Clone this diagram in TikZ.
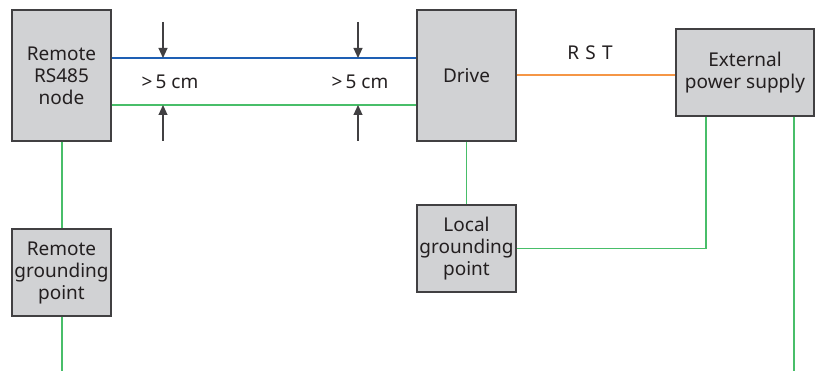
\documentclass[tikz,border=0pt]{standalone}
\usepackage{fontspec}
\setmainfont{Noto Sans}
\usepackage{xcolor}
\usetikzlibrary{arrows.meta}
\definecolor{boxgray}{RGB}{209,210,212}
\definecolor{boxedge}{RGB}{65,64,66}
\definecolor{inkdark}{RGB}{35,31,32}
\definecolor{busblue}{RGB}{30,95,180}
\definecolor{gndgreen}{RGB}{72,190,105}
\definecolor{pwrorange}{RGB}{245,150,70}

\begin{document}
\begin{tikzpicture}[x=1pt,y=-1pt,>={Triangle[length=10pt,width=9pt]},
  unit/.style={draw=boxedge,fill=boxgray,line width=1.4pt,align=center,inner sep=0pt,
    text=inkdark,font=\fontsize{19}{22}\selectfont},
  tall/.style={unit,minimum width=99pt,minimum height=131pt},
  flat/.style={unit,minimum width=99pt,minimum height=87pt},
  wire/.style={line width=1.5pt},
  gap/.style={->,line width=1.1pt,draw=boxedge},
  tag/.style={text=inkdark,font=\fontsize{19}{22}\selectfont,inner sep=0pt}]
\useasboundingbox (0,0) rectangle (815,371);

% units
\node[tall] (remote) at (61.5,75.5) {Remote\\RS485\\node};
\node[tall] (drive) at (466.5,75.5) {Drive};
\node[unit,minimum width=138pt,minimum height=87pt] (psu) at (745,72.5) {External\\power supply};
\node[flat] (localgnd) at (466.5,248.5) {Local\\grounding\\point};
\node[flat] (remotegnd) at (61.5,272.5) {Remote\\grounding\\point};

% bus lines
\draw[wire,busblue] (remote.east |- 0,58) -- (drive.west |- 0,58);
\draw[wire,gndgreen] (remote.east |- 0,105) -- (drive.west |- 0,105);
\draw[wire,pwrorange] (drive.east |- 0,75) -- (psu.west |- 0,75);
\node[tag] (rst) at (590,53) {R\,\,S\,\,T};

% spacing marks
\foreach \xx/\nm in {163/a,358/b}{
  \coordinate (top\nm) at (\xx,22);
  \coordinate (bot\nm) at (\xx,141);
  \draw[gap] (top\nm) -- (\xx,58);
  \draw[gap] (bot\nm) -- (\xx,105);
}
\node[tag] (dista) at (170,82) {>\,5 cm};
\node[tag] (distb) at (360,82) {>\,5 cm};

% grounding
\coordinate (endremote) at (62,371);
\coordinate (endpsu) at (794,371);
\coordinate (bend) at (706,248.5);
\draw[wire,gndgreen] (62,0 |- remote.south) -- (62,0 |- remotegnd.north);
\draw[wire,gndgreen] (62,0 |- remotegnd.south) -- (endremote);
\draw[wire,gndgreen] (drive.south) -- (localgnd.north);
\draw[wire,gndgreen] (localgnd.east) -- (bend) -- (bend |- psu.south);
\draw[wire,gndgreen] (endpsu |- psu.south) -- (endpsu);
\end{tikzpicture}
\end{document}
